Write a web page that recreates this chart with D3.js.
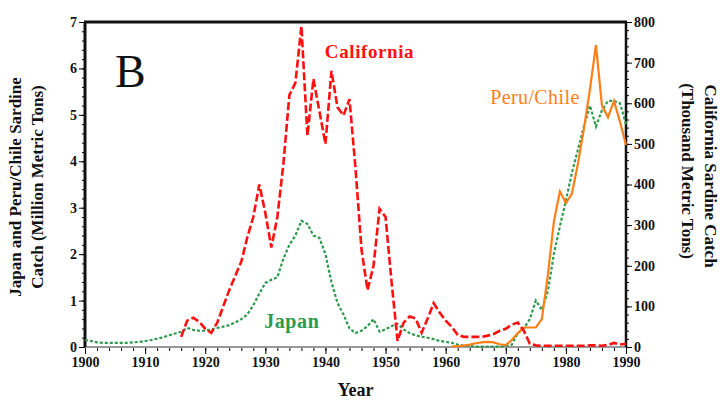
<!DOCTYPE html>
<html>
<head>
<meta charset="utf-8">
<script src="https://cdn.jsdelivr.net/npm/d3@7"></script>
<style>
  body { margin: 0; background: #fff; }
  svg { display: block; }
  text { font-family: "Liberation Serif", "Times New Roman", serif; }
</style>
</head>
<body>
<div id="chart"></div>
<script>
// sardine catch
const calYears = d3.range(1916, 1991);
const calCatch = [ // thousand metric tons
  25, 65, 72, 62, 45, 35, 60, 100, 140, 175,
  210, 270, 320, 400, 330, 245, 320, 450, 620, 650,
  790, 520, 660, 580, 500, 680, 590, 570, 610, 440,
  240, 140, 200, 340, 320, 160, 15, 60, 75, 70,
  35, 70, 108, 85, 65, 50, 30, 25, 25, 25,
  25, 28, 32, 40, 45, 55, 60, 40, 8, 4,
  3, 3, 3, 3, 3, 3, 3, 3, 4, 4,
  3, 5, 10, 6, 8
];

const japanYears = d3.range(1900, 1991);
const japanCatch = [ // million metric tons
  0.15, 0.13, 0.10, 0.09, 0.09, 0.09, 0.09, 0.09, 0.10, 0.11,
  0.13, 0.15, 0.18, 0.21, 0.25, 0.29, 0.33, 0.41, 0.37, 0.35,
  0.35, 0.38, 0.41, 0.44, 0.47, 0.53, 0.60, 0.70, 0.90, 1.15,
  1.38, 1.45, 1.50, 1.90, 2.20, 2.40, 2.72, 2.65, 2.40, 2.35,
  2.00, 1.40, 0.95, 0.70, 0.40, 0.30, 0.35, 0.45, 0.60, 0.33,
  0.38, 0.45, 0.50, 0.38, 0.30, 0.25, 0.22, 0.20, 0.17, 0.13,
  0.11, 0.09, 0.05, 0.03, 0.02, 0.01, 0.01, 0.01, 0.01, 0.01,
  0.02, 0.05, 0.30, 0.40, 0.60, 1.00, 0.80, 1.20, 2.00, 2.60,
  3.15, 3.75, 4.25, 4.75, 5.20, 4.75, 5.10, 5.30, 5.30, 5.25,
  4.80
];

const peruYears = d3.range(1961, 1991);
const peruCatch = [ // million metric tons
  0.01, 0.02, 0.03, 0.05, 0.08, 0.10, 0.11, 0.10, 0.06, 0.04,
  0.15, 0.30, 0.42, 0.42, 0.42, 0.60, 1.55, 2.70, 3.35, 3.10,
  3.30, 3.95, 4.70, 5.55, 6.50, 5.20, 4.95, 5.30, 4.85, 4.35
];

const yearTicks = d3.range(1900, 1991, 10);
const leftTicks = d3.range(0, 8, 1);
const rightTicks = d3.range(0, 801, 100);

const width = 723, height = 401;
const margin = {top: 22, right: 97, bottom: 54, left: 85};

const svg = d3.select("#chart").append("svg")
  .attr("width", width)
  .attr("height", height);

const x = d3.scaleLinear().domain([1900, 1990]).range([margin.left, width - margin.right]);
const yL = d3.scaleLinear().domain([0, 7]).range([height - margin.bottom, margin.top]);
const yR = d3.scaleLinear().domain([0, 800]).range([height - margin.bottom, margin.top]);

const x0 = x.range()[0], x1 = x.range()[1];
const yb = yL.range()[0], yt = yL.range()[1];

// minor ticks
svg.append("g")
  .attr("transform", `translate(${x0},0)`)
  .call(d3.axisLeft(yL).tickValues(d3.range(0, 7.01, 0.2)).tickSize(3).tickFormat(""))
  .call(g => g.select(".domain").remove());
svg.append("g")
  .attr("transform", `translate(${x1},0)`)
  .call(d3.axisRight(yR).tickValues(d3.range(0, 801, 20)).tickSize(3).tickFormat(""))
  .call(g => g.select(".domain").remove());
svg.append("g")
  .attr("transform", `translate(0,${yb})`)
  .call(d3.axisBottom(x).tickValues(d3.range(1900, 1991, 2)).tickSize(4).tickFormat(""))
  .call(g => g.select(".domain").remove());

// major ticks + labels
const tickFont = g => g.selectAll("text")
  .style("font-family", "'Liberation Serif', serif")
  .style("font-weight", "bold")
  .style("font-size", "14px")
  .attr("fill", "#111");

svg.append("g")
  .attr("transform", `translate(${x0},0)`)
  .call(d3.axisLeft(yL).tickValues(leftTicks).tickSize(6).tickPadding(2).tickFormat(d3.format("d")))
  .call(g => g.select(".domain").remove())
  .call(tickFont);
svg.append("g")
  .attr("transform", `translate(${x1},0)`)
  .call(d3.axisRight(yR).tickValues(rightTicks).tickSize(6).tickPadding(2).tickFormat(d3.format("d")))
  .call(g => g.select(".domain").remove())
  .call(tickFont);
svg.append("g")
  .attr("transform", `translate(0,${yb})`)
  .call(d3.axisBottom(x).tickValues(yearTicks).tickSize(7).tickPadding(3).tickFormat(d3.format("d")))
  .call(g => g.select(".domain").remove())
  .call(tickFont);

// frame
svg.append("line").attr("x1", x0).attr("x2", x1).attr("y1", yb).attr("y2", yb)
  .attr("stroke", "#999").attr("stroke-width", 2);
svg.append("line").attr("x1", x0 - 1).attr("x2", x1 + 1).attr("y1", yt).attr("y2", yt)
  .attr("stroke", "#111").attr("stroke-width", 3);
svg.append("line").attr("x1", x0).attr("x2", x0).attr("y1", yt).attr("y2", yb)
  .attr("stroke", "#111").attr("stroke-width", 3);
svg.append("line").attr("x1", x1).attr("x2", x1).attr("y1", yt).attr("y2", yb)
  .attr("stroke", "#111").attr("stroke-width", 2.5);

// series
const calLine = d3.line().x((d, i) => x(calYears[i])).y(d => yR(d));
const leftLine = years => d3.line().x((d, i) => x(years[i])).y(d => yL(d));

svg.append("path")
  .datum(japanCatch)
  .attr("d", leftLine(japanYears))
  .attr("fill", "none")
  .attr("stroke", "#2e9a4e")
  .attr("stroke-width", 2.2)
  .attr("stroke-dasharray", "3,2");

svg.append("path")
  .datum(peruCatch)
  .attr("d", leftLine(peruYears))
  .attr("fill", "none")
  .attr("stroke", "#ff7f17")
  .attr("stroke-width", 2.2);

svg.append("path")
  .datum(calCatch)
  .attr("d", calLine)
  .attr("fill", "none")
  .attr("stroke", "#ff1010")
  .attr("stroke-width", 2.6)
  .attr("stroke-dasharray", "8,3");

// labels
svg.append("text")
  .attr("x", x(1905)).attr("y", yL(5.6))
  .style("font-size", "46px")
  .attr("fill", "#111")
  .text("B");

svg.append("text")
  .attr("x", x(1939.9)).attr("y", yR(711))
  .style("font-size", "19px").style("font-weight", "bold")
  .style("letter-spacing", "0.6px")
  .attr("fill", "#ff1010")
  .text("California");

svg.append("text")
  .attr("x", x(1967.4)).attr("y", yL(5.23))
  .style("font-size", "20px")
  .style("letter-spacing", "0.4px")
  .attr("fill", "#ff7f17")
  .text("Peru/Chile");

svg.append("text")
  .attr("x", x(1929.8)).attr("y", yL(0.41))
  .style("font-size", "20px").style("font-weight", "bold")
  .style("letter-spacing", "0.6px")
  .attr("fill", "#2e9a4e")
  .text("Japan");

// axis titles
const cyL = 187;
svg.append("text")
  .attr("transform", `translate(21,${cyL}) rotate(-90)`)
  .attr("text-anchor", "middle")
  .style("font-size", "17px").style("font-weight", "bold")
  .attr("fill", "#111")
  .text("Japan and Peru/Chile Sardine");
svg.append("text")
  .attr("transform", `translate(43,${cyL}) rotate(-90)`)
  .attr("text-anchor", "middle")
  .style("font-size", "17px").style("font-weight", "bold")
  .attr("fill", "#111")
  .text("Catch (Million Metric Tons)");

svg.append("text")
  .attr("transform", `translate(705,176) rotate(90)`)
  .attr("text-anchor", "middle")
  .style("font-size", "17px").style("font-weight", "bold")
  .attr("fill", "#111")
  .text("California Sardine Catch");
svg.append("text")
  .attr("transform", `translate(682,171) rotate(90)`)
  .attr("text-anchor", "middle")
  .style("font-size", "17px").style("font-weight", "bold")
  .attr("fill", "#111")
  .text("(Thousand Metric Tons)");

svg.append("text")
  .attr("x", (x0 + x1) / 2).attr("y", 396)
  .attr("text-anchor", "middle")
  .style("font-size", "18px").style("font-weight", "bold")
  .attr("fill", "#111")
  .text("Year");
</script>
</body>
</html>
